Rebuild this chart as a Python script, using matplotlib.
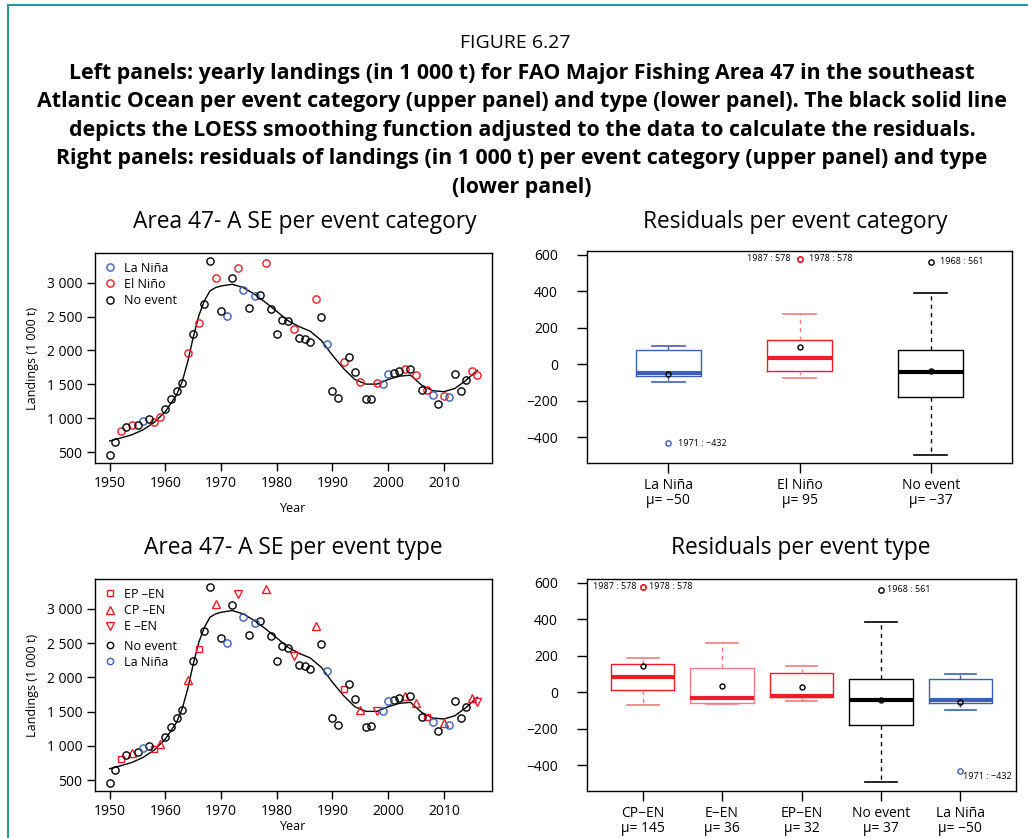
import matplotlib
matplotlib.use("Agg")
import matplotlib.pyplot as plt
from matplotlib.lines import Line2D
from matplotlib import font_manager

# ---------------- data ----------------
years = list(range(1950, 2017))
landings = [456, 651, 807, 870, 895, 905, 963, 992, 948, 1022,
            1134, 1280, 1402, 1519, 1967, 2245, 2410, 2678, 3322, 3068,
            2576, 2508, 3063, 3219, 2888, 2625, 2800, 2825, 3292, 2610,
            2240, 2454, 2435, 2318, 2186, 2162, 2123, 2756, 2493, 2098,
            1407, 1299, 1835, 1904, 1679, 1528, 1280, 1290, 1514, 1504,
            1650, 1665, 1694, 1733, 1728, 1631, 1416, 1421, 1343, 1216,
            1329, 1309, 1650, 1402, 1562, 1699, 1640]
event_type = ['N', 'N', 'EP', 'N', 'CP', 'N', 'L', 'N', 'EP', 'CP',
              'N', 'N', 'N', 'N', 'CP', 'N', 'EP', 'N', 'N', 'CP',
              'N', 'L', 'N', 'E', 'L', 'N', 'L', 'N', 'CP', 'N',
              'N', 'N', 'N', 'E', 'N', 'N', 'N', 'CP', 'N', 'L',
              'N', 'N', 'EP', 'N', 'N', 'CP', 'N', 'N', 'E', 'L',
              'L', 'N', 'N', 'CP', 'N', 'CP', 'N', 'EP', 'L', 'N',
              'CP', 'L', 'N', 'N', 'N', 'CP', 'E']

curve_years = [1950, 1952, 1954, 1956, 1958, 1960, 1962, 1963, 1964, 1965,
               1966, 1967, 1968, 1969, 1970, 1972, 1974, 1976, 1978, 1980,
               1982, 1984, 1986, 1988, 1990, 1992, 1994, 1996, 1998, 2000,
               2002, 2004, 2006, 2008, 2010, 2012, 2014, 2016]
curve_values = [666, 710, 758, 831, 939, 1100, 1343, 1538, 1830, 2196,
                2513, 2732, 2878, 2927, 2951, 2976, 2927, 2829, 2708, 2576,
                2440, 2352, 2284, 2147, 1928, 1733, 1572, 1504, 1504, 1572,
                1621, 1636, 1489, 1407, 1392, 1441, 1562, 1709]

# residual box statistics (category)
cat_labels = ['La Niña', 'El Niño', 'No event']
cat_means_txt = ['−50', '95', '−37']
cat_q1 = [-61, -37, -178]
cat_med = [-46, 37, -40]
cat_q3 = [79, 136, 79]
cat_wlo = [-99, -72, -497]
cat_whi = [101, 275, 393]
cat_mean = [-53, 94, -37]
cat_fliers = [[-432], [578, 578], [561]]

# residual box statistics (type)
typ_labels = ['CP−EN', 'E−EN', 'EP−EN', 'No event', 'La Niña']
typ_means_txt = ['145', '36', '32', '37', '−50']
typ_q1 = [13, -60, -25, -178, -60]
typ_med = [82, -33, -18, -40, -44]
typ_q3 = [155, 131, 104, 76, 76]
typ_wlo = [-71, -64, -47, -493, -96]
typ_whi = [189, 271, 145, 387, 102]
typ_mean = [144, 35, 29, -40, -51]
typ_fliers = [[578, 578], [], [], [561], [-432]]

y_ticks = [500, 1000, 1500, 2000, 2500, 3000]
y_tick_labels = ['500', '1 000', '1 500', '2 000', '2 500', '3 000']
x_ticks = [1950, 1960, 1970, 1980, 1990, 2000, 2010]
r_ticks = [-400, -200, 0, 200, 400, 600]
r_tick_labels = ['−400', '−200', '0', '200', '400', '600']

# ---------------- style ----------------
avail = {f.name for f in font_manager.fontManager.ttflist}
main_font = 'Open Sans' if 'Open Sans' in avail else 'DejaVu Sans'
plt.rcParams['font.family'] = [main_font, 'DejaVu Sans']

RED = '#ee1c25'
RED_L = '#f47c80'
BLUE = '#3f5fb5'
BLACK = '#000000'
TEAL = '#1f9c98'

W, H = 1028, 838
fig = plt.figure(figsize=(W / 100, H / 100), dpi=100)


def axes_px(x0, y0, x1, y1):
    return fig.add_axes([x0 / W, 1 - y1 / H, (x1 - x0) / W, (y1 - y0) / H])


def fy(y):
    return 1 - y / H


# border
fig.add_artist(Line2D([7.5 / W, 7.5 / W], [0, fy(5)], color=TEAL, lw=1.5))
fig.add_artist(Line2D([7.5 / W, 1], [fy(5), fy(5)], color=TEAL, lw=1.5))

# caption
fig.text(515 / W, fy(43), 'FIGURE 6.27', ha='center', va='center', fontsize=14)
cap_lines = [
    'Left panels: yearly landings (in 1 000 t) for FAO Major Fishing Area 47 in the southeast',
    'Atlantic Ocean per event category (upper panel) and type (lower panel). The black solid line',
    'depicts the LOESS smoothing function adjusted to the data to calculate the residuals.',
    'Right panels: residuals of landings (in 1 000 t) per event category (upper panel) and type',
    '(lower panel)',
]
for i, line in enumerate(cap_lines):
    fig.text(522 / W, fy(73 + i * 28.6), line, ha='center', va='center',
             fontsize=15.4, fontweight='bold')

fig.text(305 / W, fy(222), 'Area 47- A SE per event category', ha='center', va='center', fontsize=16.4)
fig.text(795 / W, fy(222), 'Residuals per event category', ha='center', va='center', fontsize=16.4)
fig.text(293 / W, fy(548), 'Area 47- A SE per event type', ha='center', va='center', fontsize=16.4)
fig.text(801 / W, fy(548), 'Residuals per event type', ha='center', va='center', fontsize=16.4)


def style_ax(ax):
    for s in ax.spines.values():
        s.set_linewidth(1.0)
    ax.tick_params(direction='out', length=6, width=1, labelsize=10, pad=3)


def scatter_panel(ax, by_type, xlabelpad):
    ax.plot(curve_years, curve_values, color='black', lw=1.0, zorder=2)
    if not by_type:
        groups = [('L', BLUE, 'o'), ('EL', RED, 'o'), ('N', BLACK, 'o')]
    else:
        groups = [('EP', RED, 's'), ('CP', RED, '^'), ('E', RED, 'v'),
                  ('N', BLACK, 'o'), ('L', BLUE, 'o')]
    sizes = {'o': 5.2, 's': 4.6, '^': 6.2, 'v': 6.2}
    for code, col, mk in groups:
        if code == 'EL':
            sel = [i for i, t in enumerate(event_type) if t in ('EP', 'CP', 'E')]
        else:
            sel = [i for i, t in enumerate(event_type) if t == code]
        ax.plot([years[i] for i in sel], [landings[i] for i in sel], ls='none',
                marker=mk, ms=sizes[mk], mfc='none', mec=col, mew=1.0, zorder=3)
    ax.set_xlim(1947.36, 2018.64)
    ax.set_ylim(341, 3437)
    ax.set_xticks(x_ticks)
    ax.set_yticks(y_ticks)
    ax.set_yticklabels(y_tick_labels)
    ax.set_xlabel('Year', fontsize=9, labelpad=xlabelpad)
    ax.set_ylabel('Landings (1 000 t)', fontsize=9, labelpad=6)
    style_ax(ax)
    kw = dict(frameon=False, fontsize=9, handlelength=1.0, handletextpad=0.6,
              labelspacing=0.25, borderaxespad=0.3)
    if not by_type:
        handles = [Line2D([], [], ls='none', marker='o', mfc='none', mec=c, ms=5.2)
                   for c in (BLUE, RED, BLACK)]
        labels = ['La Niña', 'El Niño', 'No event']
        ax.legend(handles, labels, loc='upper left', bbox_to_anchor=(0.0, 1.0), **kw)
    else:
        h1 = [Line2D([], [], ls='none', marker='s', mfc='none', mec=RED, ms=4.6),
              Line2D([], [], ls='none', marker='^', mfc='none', mec=RED, ms=5.6),
              Line2D([], [], ls='none', marker='v', mfc='none', mec=RED, ms=5.6)]
        l1 = ['EP –EN', 'CP –EN', 'E –EN']
        leg1 = ax.legend(h1, l1, loc='upper left', bbox_to_anchor=(0.0, 1.0), **kw)
        ax.add_artist(leg1)
        h2 = [Line2D([], [], ls='none', marker='o', mfc='none', mec=BLACK, ms=4.6),
              Line2D([], [], ls='none', marker='o', mfc='none', mec=BLUE, ms=4.6)]
        l2 = ['No event', 'La Niña']
        ax.legend(h2, l2, loc='upper left', bbox_to_anchor=(0.0, 0.755), **kw)


def box_panel(ax, labels, mtxt, q1, med, q3, wlo, whi, mean, fliers, colors, medcolors,
              wcolors, width, xlim, annotations):
    pos = list(range(1, len(labels) + 1))
    for i in range(len(labels)):
        st = dict(med=med[i], q1=q1[i], q3=q3[i], whislo=wlo[i], whishi=whi[i],
                  mean=mean[i], fliers=[], label=labels[i])
        c, mc, wc = colors[i], medcolors[i], wcolors[i]
        ax.bxp([st], positions=[pos[i]], widths=width, showmeans=True, showfliers=False,
               boxprops=dict(color=c, lw=1.0),
               medianprops=dict(color=mc, lw=3.0, solid_capstyle='butt'),
               whiskerprops=dict(color=wc, lw=1.0, ls=(0, (3, 3))),
               capprops=dict(color=wc, lw=1.2),
               meanprops=dict(marker='o', mfc='none', mec='black', ms=3.6, mew=1.0),
               capwidths=width * 0.5, manage_ticks=False)
        for f in fliers[i]:
            ax.plot([pos[i]], [f], ls='none', marker='o', mfc='none', mec=c, ms=3.8, mew=1.0)
    for (x, y, txt, ha) in annotations:
        ax.text(x, y, txt, ha=ha, va='center', fontsize=6.5)
    ax.set_xlim(*xlim)
    ax.set_ylim(-540, 621)
    ax.set_yticks(r_ticks)
    ax.set_yticklabels(r_tick_labels)
    ax.set_xticks(pos)
    ax.set_xticklabels([f'{l}\nμ= {m}' for l, m in zip(labels, mtxt)], linespacing=1.0)
    style_ax(ax)
    ax.tick_params(axis='x', length=7, pad=4)
    ax.tick_params(axis='y', length=7, pad=14)


# top-left
ax1 = axes_px(95, 253, 492, 463)
scatter_panel(ax1, False, 8)

# bottom-left
ax3 = axes_px(95, 579, 492, 791)
scatter_panel(ax3, True, 1)

# top-right
ax2 = axes_px(587, 251, 1012, 463)
box_panel(ax2, cat_labels, cat_means_txt, cat_q1, cat_med, cat_q3, cat_wlo, cat_whi,
          cat_mean, cat_fliers, [BLUE, RED, BLACK], [BLUE, RED, BLACK],
          [BLUE, RED_L, BLACK], 0.5, (0.38, 3.62),
          [(1.07, -432, '1971 : −432', 'left'),
           (1.93, 578, '1987 : 578', 'right'),
           (2.07, 578, '1978 : 578', 'left'),
           (3.07, 561, '1968 : 561', 'left')])

# bottom-right
ax4 = axes_px(587, 579, 1016, 791)
box_panel(ax4, typ_labels, typ_means_txt, typ_q1, typ_med, typ_q3, typ_wlo, typ_whi,
          typ_mean, typ_fliers, [RED, RED_L, RED, BLACK, BLUE], [RED, RED, RED, BLACK, BLUE],
          [RED_L, RED_L, RED_L, BLACK, BLUE], 0.8, (0.3, 5.7),
          [(5.03, -460, '1971 : −432', 'left'),
           (0.92, 578, '1987 : 578', 'right'),
           (1.08, 578, '1978 : 578', 'left'),
           (4.08, 561, '1968 : 561', 'left')])

fig.savefig('out.png', dpi=100)
